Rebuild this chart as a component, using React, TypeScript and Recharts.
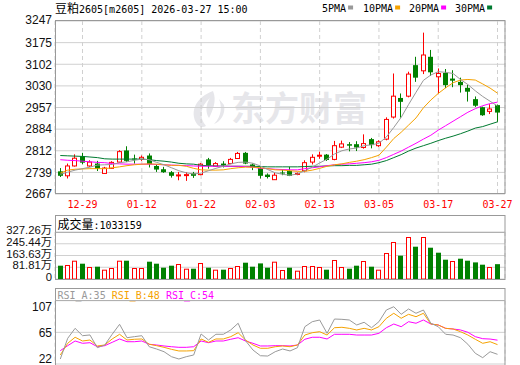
import React from 'react';
import { ComposedChart, Bar, Line, XAxis, YAxis, CartesianGrid } from 'recharts';

const DATES = ['12-24','12-25','12-26','12-29','12-30','12-31','01-05','01-06','01-07','01-08','01-09','01-12','01-13','01-14','01-15','01-16','01-19','01-20','01-21','01-22','01-23','01-26','01-27','01-28','01-29','01-30','02-02','02-03','02-04','02-05','02-06','02-09','02-10','02-11','02-12','02-13','02-24','02-25','02-26','02-27','03-02','03-03','03-04','03-05','03-06','03-09','03-10','03-11','03-12','03-13','03-16','03-17','03-18','03-19','03-20','03-23','03-24','03-25','03-26','03-27'];
const X_TICK_INDEX = [3, 11, 19, 27, 35, 43, 51, 59];

const OPEN = [2743,2728,2761,2794,2761,2769,2736,2753,2774,2813,2786,2783,2796,2761,2750,2740,2729,2730,2736,2732,2783,2760,2769,2769,2786,2805,2766,2754,2732,2715,2739,2744,2733,2745,2774,2795,2799,2783,2824,2834,2834,2823,2851,2829,2851,2925,2989,2995,3099,3080,3127,3060,3073,3054,3043,3023,2985,2958,2944,2965];
const HIGH = [2754,2769,2800,2805,2780,2778,2758,2777,2814,2827,2799,2796,2803,2767,2758,2744,2741,2740,2741,2771,2788,2774,2777,2788,2808,2808,2769,2758,2736,2739,2749,2758,2739,2780,2800,2809,2801,2845,2846,2841,2844,2867,2855,2847,2924,3071,3004,3077,3127,3208,3150,3088,3086,3082,3057,3033,2994,2960,2968,2967];
const LOW = [2724,2719,2759,2767,2758,2744,2735,2751,2772,2774,2769,2778,2756,2741,2738,2722,2713,2711,2721,2730,2752,2758,2756,2767,2785,2767,2747,2719,2719,2714,2730,2727,2730,2740,2766,2785,2778,2780,2821,2810,2811,2819,2820,2825,2847,2920,2923,2991,3043,3069,3063,3004,3022,3025,3007,2977,2959,2929,2935,2909];
const CLOSE = [2728,2761,2787,2772,2774,2752,2754,2773,2809,2778,2783,2790,2767,2749,2740,2728,2731,2732,2728,2767,2763,2769,2763,2783,2803,2769,2756,2728,2724,2730,2736,2728,2736,2772,2790,2797,2781,2829,2835,2829,2823,2836,2831,2842,2917,2995,2976,3069,3057,3133,3075,3071,3032,3047,3032,3010,2963,2931,2952,2940];
const VOLUME = [926000,975000,1274000,1065000,836000,856000,648000,766000,1274000,1274000,766000,766000,1205000,1065000,787000,926000,1044000,717000,717000,1114000,787000,648000,648000,766000,905000,1135000,856000,1086000,787000,1205000,627000,787000,578000,905000,905000,836000,648000,1323000,836000,717000,926000,1253000,856000,648000,1810000,2576000,1623000,2924000,2249000,2924000,2179000,1831000,1344000,1253000,1413000,1274000,1156000,996000,836000,1033159];

const MA5 = [2733,2740,2747,2752,2757,2764,2765,2766,2772,2775,2780,2784,2782,2773,2765,2755,2745,2738,2734,2737,2745,2753,2760,2768,2773,2774,2770,2761,2749,2738,2733,2730,2734,2745,2757,2771,2784,2801,2812,2818,2821,2829,2832,2837,2858,2890,2924,2967,3008,3048,3066,3077,3075,3071,3051,3034,3013,2994,2978,2962];
const MA10 = [2737,2747,2750,2751,2752,2752,2752,2755,2758,2762,2765,2767,2768,2767,2765,2763,2763,2760,2753,2748,2747,2747,2748,2752,2755,2757,2757,2755,2752,2748,2747,2745,2743,2743,2747,2753,2760,2765,2768,2773,2777,2782,2789,2797,2824,2853,2874,2898,2922,2956,2982,3004,3023,3040,3049,3051,3049,3036,3022,3005];
const MA20 = [2782,2780,2779,2777,2775,2773,2772,2769,2768,2767,2767,2767,2767,2766,2765,2764,2763,2762,2761,2760,2760,2760,2760,2760,2760,2759,2757,2753,2752,2750,2749,2748,2748,2752,2755,2758,2762,2765,2767,2768,2770,2772,2775,2780,2789,2800,2811,2824,2837,2851,2864,2881,2896,2911,2926,2941,2953,2963,2970,2975];
const MA30 = [2796,2795,2794,2793,2791,2789,2785,2784,2784,2784,2784,2784,2782,2779,2777,2774,2770,2768,2767,2763,2762,2761,2761,2760,2760,2760,2760,2759,2758,2758,2758,2758,2758,2759,2760,2760,2761,2762,2762,2763,2763,2765,2767,2772,2779,2789,2799,2811,2821,2829,2837,2846,2854,2861,2869,2878,2888,2893,2901,2909];

const RSI_A = [28.7,56.5,69.9,60,61,43.9,47.5,61.9,75.3,57.3,58.7,60,45.2,42.1,38.5,31.8,28.7,31.8,34.1,62.3,54.2,61.9,61.9,67.7,76.7,53.3,40.8,33.1,32.7,38.5,42.1,39.5,43.9,72.1,78.8,81.1,63.2,82.4,82,81.1,74.4,78,70.7,78.8,94.5,98.9,88.7,95.9,90.1,94.5,76.7,72.1,61.9,60.9,57.3,48.5,36.4,30.5,38.5,35];
const RSI_B = [34.1,49.8,57.9,52.9,54.2,46.2,47.5,55.6,61.9,54.2,55.2,55.6,48.5,46.6,44.4,41.7,39.5,39.5,39.9,55.6,51.1,55.6,55.6,58.7,64,54.2,47.5,43.1,43.1,45.2,46.2,45.2,47.5,60.9,64,65.4,60.9,70.7,71.3,69.9,67.7,69.9,67.7,72.1,83.4,90.1,83.4,88.7,85.5,90.1,75.7,74.4,69.9,69,65.4,60.9,55.2,49.8,51.9,48];
const RSI_C = [39.9,46.6,52.9,49.8,50.6,45.2,46.6,51.1,55.6,51.9,51.9,52.9,48.5,47.5,46.2,45.2,44.4,44.4,45.2,52.9,50.6,52.9,52.9,55.2,57.3,52.9,49.8,46.2,46.2,46.6,46.6,46.2,47.5,55.2,57.9,57.9,55.6,61.9,61.9,61.9,60.9,60.9,60.9,63.2,70.7,75.7,72.1,78.8,76.7,81.1,75.7,74.4,69.9,69,67.7,64.6,58.7,56,55.5,54];

const PRICE_TICKS = [2667, 2739.5, 2812, 2884.5, 2957, 3029.5, 3102, 3174.5, 3247];
const PRICE_LABELS = ['2667','2739','2812','2884','2957','3030','3102','3175','3247'];
const VOL_TICKS = [0, 818150, 1636300, 2454450, 3272600];
const VOL_LABELS = ['0','81.81万','163.63万','245.44万','327.26万'];
const RSI_TICKS = [22, 64.5, 107];
const RSI_LABELS = ['22','65','107'];

const TITLE_CJK = '豆粕';
const TITLE_REST = '2605[m2605] 2026-03-27 15:00';
const VOL_TITLE_CJK = '成交量';
const VOL_TITLE_REST = ':1033159';
const MA_LEGEND = ['5PMA','10PMA','20PMA','30PMA'];
const RSI_LEGEND = ['RSI_A:35','RSI_B:48','RSI_C:54'];
const WATERMARK = '东方财富';

const C_UP = '#ff0000';
const C_DOWN = '#008000';
const C_MA = ['#999999', '#f5a200', '#ff00ff', '#007a30'];
const C_RSI = ['#999999', '#f5a200', '#ff00ff'];
const GRID = '#d0d0d0';
const BORDER = '#999999';
const MONO = "'DejaVu Sans Mono', monospace";
const CJK = "'Noto Sans CJK SC', sans-serif";
const SANS = "'Liberation Sans', 'Noto Sans CJK SC', sans-serif";

const data = DATES.map((d, i) => ({
  i,
  date: d,
  open: OPEN[i],
  high: HIGH[i],
  low: LOW[i],
  close: CLOSE[i],
  vol: VOLUME[i],
  volUp: i === 0 ? CLOSE[i] >= OPEN[i] : CLOSE[i] >= CLOSE[i - 1],
  ma5: MA5[i],
  ma10: MA10[i],
  ma20: MA20[i],
  ma30: MA30[i],
  rsiA: RSI_A[i],
  rsiB: RSI_B[i],
  rsiC: RSI_C[i],
}));

const X_DOMAIN: [number, number] = [-0.715, 60.01];
const W = 520;
const MARGIN_X = { left: 0, right: 15 };
const Y_AXIS_W = 55;

const Candle = (props: any) => {
  const { x, y, width, height, payload } = props;
  if (x == null || y == null || !payload) return null;
  const top = Math.min(y, y + height);
  const h = Math.abs(height);
  const { open, high, low, close } = payload;
  const span = high - low || 1;
  const yO = top + ((high - open) / span) * h;
  const yC = top + ((high - close) / span) * h;
  const cx = Math.floor(x + width / 2) + 0.5;
  const bTop = Math.min(yO, yC);
  const bH = Math.max(1, Math.abs(yO - yC));
  const up = close > open;
  const col = up ? C_UP : C_DOWN;
  return (
    <g>
      <line x1={cx} x2={cx} y1={top} y2={top + h} stroke={col} strokeWidth={1} />
      {up ? (
        <rect x={cx - 2} y={bTop} width={4} height={bH} fill="#ffffff" stroke={col} strokeWidth={1} />
      ) : (
        <rect x={cx - 2.5} y={bTop} width={5} height={bH} fill={col} />
      )}
    </g>
  );
};

const VolBar = (props: any) => {
  const { x, y, width, height, payload } = props;
  if (x == null || y == null || !payload) return null;
  const top = Math.min(y, y + height);
  const h = Math.abs(height);
  const cx = Math.floor(x + width / 2) + 0.5;
  if (payload.volUp) {
    return <rect x={cx - 2} y={top + 0.5} width={4} height={Math.max(0, h - 0.5)} fill="#ffffff" stroke={C_UP} strokeWidth={1} />;
  }
  return <rect x={cx - 2.5} y={top} width={5} height={h} fill={C_DOWN} />;
};

const makeYTick = (ticks: number[], labels: string[], offsets: number[], fontSize: number) => (props: any) => {
  const { x, y, payload } = props;
  const idx = ticks.indexOf(payload.value);
  if (idx < 0) return null;
  return (
    <text x={x} y={y + (offsets[idx] || 0)} dy="0.36em" textAnchor="end" fontFamily={SANS} fontSize={fontSize} fill="#111111">
      {labels[idx]}
    </text>
  );
};

const PriceTick = makeYTick(PRICE_TICKS, PRICE_LABELS, [0, 0, 0, 0, 0, 0, 0, 0, -1], 12);
const VolTick = makeYTick(VOL_TICKS, VOL_LABELS, [-2, -2, -2, -2, -2], 11.3);
const RsiTick = makeYTick(RSI_TICKS, RSI_LABELS, [-5, 0, 6], 12);

export default function App() {
  return (
    <div style={{ position: 'absolute', left: 0, top: 0, width: 520, height: 365, overflow: 'hidden', background: '#ffffff' }}>
      {/* watermark behind */}
      <svg width={520} height={365} style={{ position: 'absolute', left: 0, top: 0 }}>
        <g fill="#e6e6ea">
          <path d="M213 91 C196 97 189 112 197 124 C199 127 203 128 206 126 C199 118 200 106 210 98 C206 104 205 112 209 118 C213 110 217 100 213 91 Z" />
          <path d="M219 99 C222 106 222 116 214 124 C220 122 226 114 224 105 Z" />
        </g>
        <text x={231} y={121} fontFamily={CJK} fontWeight={700} fontSize={34} fill="#e6e6ea">{WATERMARK}</text>
      </svg>

      {/* main candle chart */}
      <div style={{ position: 'absolute', left: 0, top: 0 }}>
        <ComposedChart width={W} height={216} data={data} margin={{ top: 21, right: MARGIN_X.right, left: MARGIN_X.left, bottom: 0 }}>
          <CartesianGrid horizontal={true} vertical={false} stroke={GRID} />
          <CartesianGrid horizontal={false} vertical={true} stroke={GRID} strokeDasharray="4 3" />
          <XAxis
            dataKey="i"
            type="number"
            domain={X_DOMAIN}
            allowDataOverflow
            ticks={X_TICK_INDEX}
            interval={0}
            tickFormatter={(v: number) => DATES[v]}
            height={22}
            axisLine={false}
            tickLine={false}
            tickSize={0}
            tickMargin={7}
            tick={{ fill: '#ff0000', fontSize: 10, fontFamily: MONO }}
          />
          <YAxis
            type="number"
            domain={[PRICE_TICKS[0], PRICE_TICKS[PRICE_TICKS.length - 1]]}
            allowDataOverflow
            ticks={PRICE_TICKS}
            interval={0}
            width={Y_AXIS_W}
            axisLine={false}
            tickLine={false}
            tickSize={0}
            tickMargin={3}
            tick={PriceTick}
          />
          <Bar dataKey={(d: any) => [d.low, d.high]} barSize={5} shape={Candle} isAnimationActive={false} />
          <Line dataKey="ma30" type="linear" stroke={C_MA[3]} strokeWidth={1} dot={false} activeDot={false} isAnimationActive={false} />
          <Line dataKey="ma20" type="linear" stroke={C_MA[2]} strokeWidth={1} dot={false} activeDot={false} isAnimationActive={false} />
          <Line dataKey="ma10" type="linear" stroke={C_MA[1]} strokeWidth={1} dot={false} activeDot={false} isAnimationActive={false} />
          <Line dataKey="ma5" type="linear" stroke={C_MA[0]} strokeWidth={1} dot={false} activeDot={false} isAnimationActive={false} />
        </ComposedChart>
      </div>

      {/* volume chart */}
      <div style={{ position: 'absolute', left: 0, top: 215 }}>
        <ComposedChart width={W} height={72} data={data} margin={{ top: 17, right: MARGIN_X.right, left: MARGIN_X.left, bottom: 8 }}>
          <CartesianGrid horizontal={true} vertical={false} stroke={GRID} />
          <CartesianGrid horizontal={false} vertical={true} stroke={GRID} strokeDasharray="4 3" />
          <XAxis dataKey="i" type="number" domain={X_DOMAIN} allowDataOverflow ticks={X_TICK_INDEX} interval={0} height={0} axisLine={false} tickLine={false} tick={false} />
          <YAxis
            type="number"
            domain={[VOL_TICKS[0], VOL_TICKS[VOL_TICKS.length - 1]]}
            allowDataOverflow
            ticks={VOL_TICKS}
            interval={0}
            width={Y_AXIS_W}
            axisLine={false}
            tickLine={false}
            tickSize={0}
            tickMargin={3}
            tick={VolTick}
          />
          <Bar dataKey="vol" barSize={5} shape={VolBar} isAnimationActive={false} />
        </ComposedChart>
      </div>

      {/* RSI chart */}
      <div style={{ position: 'absolute', left: 0, top: 288 }}>
        <ComposedChart width={W} height={77} data={data} margin={{ top: 12.7, right: MARGIN_X.right, left: MARGIN_X.left, bottom: 1 }}>
          <CartesianGrid horizontal={true} vertical={false} stroke={GRID} />
          <CartesianGrid horizontal={false} vertical={true} stroke={GRID} strokeDasharray="4 3" />
          <XAxis dataKey="i" type="number" domain={X_DOMAIN} allowDataOverflow ticks={X_TICK_INDEX} interval={0} height={0} axisLine={false} tickLine={false} tick={false} />
          <YAxis
            type="number"
            domain={[RSI_TICKS[0], RSI_TICKS[RSI_TICKS.length - 1]]}
            allowDataOverflow
            ticks={RSI_TICKS}
            interval={0}
            width={Y_AXIS_W}
            axisLine={false}
            tickLine={false}
            tickSize={0}
            tickMargin={3}
            tick={RsiTick}
          />
          <Line dataKey="rsiC" type="linear" stroke={C_RSI[2]} strokeWidth={1} dot={false} activeDot={false} isAnimationActive={false} />
          <Line dataKey="rsiB" type="linear" stroke={C_RSI[1]} strokeWidth={1} dot={false} activeDot={false} isAnimationActive={false} />
          <Line dataKey="rsiA" type="linear" stroke={C_RSI[0]} strokeWidth={1} dot={false} activeDot={false} isAnimationActive={false} />
        </ComposedChart>
      </div>

      {/* frames and headers in front */}
      <svg width={520} height={365} style={{ position: 'absolute', left: 0, top: 0, pointerEvents: 'none' }}>
        <rect x={55.5} y={20.5} width={449.5} height={173} fill="none" stroke={BORDER} />
        <rect x={55.5} y={215.5} width={449.5} height={64} fill="none" stroke={BORDER} />
        <line x1={55.5} x2={505} y1={232.5} y2={232.5} stroke="#b0b0b0" />
        <rect x={55.5} y={288.5} width={449.5} height={80} fill="none" stroke={BORDER} />
        <line x1={55.5} x2={505} y1={300.5} y2={300.5} stroke="#b0b0b0" />

        <text x={55} y={12.5} fill="#000000">
          <tspan fontFamily={CJK} fontSize={12}>{TITLE_CJK}</tspan>
          <tspan fontFamily={MONO} fontSize={10}>{TITLE_REST}</tspan>
        </text>

        {MA_LEGEND.map((lab, k) => {
          const xs = [322, 363, 409, 455][k];
          const tw = lab.length * 6.02;
          return (
            <g key={lab}>
              <text x={xs} y={12} fontFamily={MONO} fontSize={10} fill="#000000">{lab}</text>
              <rect x={xs + tw + 2} y={5.5} width={5} height={4} fill={C_MA[k]} />
            </g>
          );
        })}

        <text x={57.5} y={228.5} fill="#000000">
          <tspan fontFamily={CJK} fontSize={12}>{VOL_TITLE_CJK}</tspan>
          <tspan fontFamily={MONO} fontSize={10}>{VOL_TITLE_REST}</tspan>
        </text>

        <text x={57.5} y={298.5} fontFamily={MONO} fontSize={10}>
          {RSI_LEGEND.map((lab, k) => (
            <tspan key={lab} fill={C_RSI[k]}>{(k > 0 ? ' ' : '') + lab}</tspan>
          ))}
        </text>
      </svg>
    </div>
  );
}
